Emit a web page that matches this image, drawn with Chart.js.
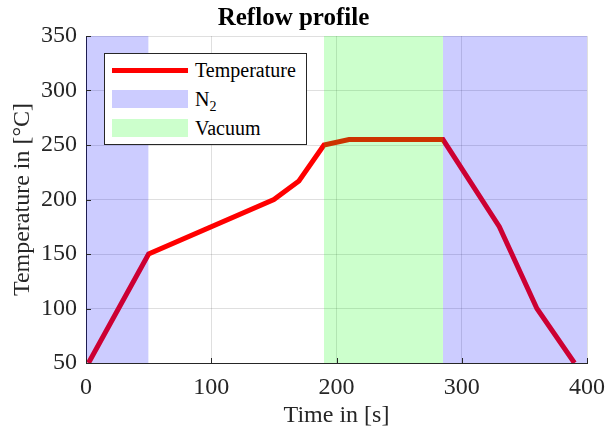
<!DOCTYPE html>
<html>
<head>
<meta charset="utf-8">
<script src="https://cdn.jsdelivr.net/npm/chart.js@4"></script>
<style>
  html, body { margin: 0; padding: 0; background: #fff; }
  #wrap { position: relative; width: 607px; height: 435px; }
  #legend { position: absolute; left: 104px; top: 53px; width: 203px; height: 92px; box-sizing: border-box;
    border: 1px solid #262626; background: #fff; font: 20px "Liberation Serif", serif; color: #000; }
  #legend .sw { position: absolute; left: 7px; width: 76px; }
  #legend .tx { position: absolute; left: 90px; line-height: 24px; white-space: nowrap; }
  #legend sub { font-size: 14px; vertical-align: -5px; line-height: 0; }
</style>
</head>
<body>
<div id="wrap">
  <canvas id="c" width="607" height="435"></canvas>
  <div id="legend"></div>
</div>
<script>
// reflow profile -- temperature vs time with N2 / vacuum phases
const timeS = [2, 50, 150, 170, 190, 210, 285, 330, 360, 390];
const tempC = [50, 150, 200, 217, 250, 255, 255, 175, 100, 50];
const n2Ranges = [[0, 50], [285, 400]];
const vacuumRange = [190, 285];
const xTicks = [0, 100, 200, 300, 400];
const yTicks = [50, 100, 150, 200, 250, 300, 350];

const RED = '#ff0000';
const BLUE = 'rgba(0,0,255,0.2)';
const GREEN = 'rgba(0,255,0,0.2)';
const AXIS = '#262626';
const FONT = '"Liberation Serif", "Times New Roman", serif';

function patch(range, color, label) {
  const top = yTicks[yTicks.length - 1];
  return {
    label, type: 'line', order: 0,
    data: [{ x: range[0], y: top }, { x: range[1], y: top }],
    borderWidth: 0, pointRadius: 0, fill: 'start', backgroundColor: color, borderColor: 'transparent'
  };
}

// MATLAB-like inward tick marks
const inwardTicks = {
  id: 'inwardTicks',
  afterDatasetsDraw(chart) {
    const { ctx, chartArea, scales: { x, y } } = chart;
    ctx.save();
    ctx.strokeStyle = AXIS;
    ctx.lineWidth = 1;
    ctx.beginPath();
    yTicks.forEach(v => {
      const py = Math.round(y.getPixelForValue(v)) + 0.5;
      ctx.moveTo(chartArea.left, py); ctx.lineTo(chartArea.left + 5, py);
    });
    xTicks.forEach(v => {
      const px = Math.round(x.getPixelForValue(v)) + 0.5;
      ctx.moveTo(px, chartArea.bottom); ctx.lineTo(px, chartArea.bottom - 5);
    });
    ctx.stroke();
    ctx.restore();
  }
};

const datasets = [
  {
    label: 'Temperature', type: 'line', order: 1,
    data: timeS.map((t, i) => ({ x: t, y: tempC[i] })),
    borderColor: RED, borderWidth: 5, pointRadius: 0, tension: 0, fill: false,
    borderJoinStyle: 'miter'
  },
  ...n2Ranges.map(r => patch(r, BLUE, 'N2')),
  patch(vacuumRange, GREEN, 'Vacuum')
];

new Chart(document.getElementById('c').getContext('2d'), {
  type: 'line',
  data: { datasets },
  options: {
    responsive: false, animation: false,
    layout: { padding: { left: 0, right: 20, top: 0, bottom: 0 } },
    plugins: {
      legend: { display: false },
      tooltip: { enabled: false },
      title: { display: true, text: 'Reflow profile', color: '#000',
        font: { family: FONT, size: 25, weight: 'bold' }, padding: { top: 4, bottom: 2 } }
    },
    scales: {
      x: {
        type: 'linear', min: 0, max: 400,
        afterBuildTicks: s => { s.ticks = xTicks.map(v => ({ value: v })); },
        afterFit: s => { s.height = 72; s.paddingLeft = 0; s.paddingRight = 0; },
        ticks: { color: '#262626', font: { family: FONT, size: 24 }, padding: 10, maxRotation: 0 },
        grid: { color: 'rgba(38,38,38,0.15)', drawTicks: false },
        border: { display: true, color: AXIS, width: 1 },
        title: { display: true, text: 'Time in [s]', color: '#262626',
          font: { family: FONT, size: 24 }, padding: { top: 0, bottom: 5 } }
      },
      y: {
        type: 'linear', min: 50, max: 350,
        afterBuildTicks: s => { s.ticks = yTicks.map(v => ({ value: v })); },
        afterFit: s => { s.width = 86; s.paddingTop = 0; s.paddingBottom = 0; },
        ticks: { color: '#262626', font: { family: FONT, size: 24 }, padding: 9 },
        grid: { color: 'rgba(38,38,38,0.15)', drawTicks: false },
        border: { display: true, color: AXIS, width: 1 },
        title: { display: true, text: 'Temperature in [°C]', color: '#262626',
          font: { family: FONT, size: 24 }, padding: { top: 8, bottom: 0 } }
      }
    }
  },
  plugins: [inwardTicks]
});

// legend box with subscript for N2
const legend = document.getElementById('legend');
legend.innerHTML = `
  <div class="sw" style="top:14px;height:5px;background:${RED}"></div>
  <div class="tx" style="top:4px">Temperature</div>
  <div class="sw" style="top:36px;height:18px;background:${BLUE}"></div>
  <div class="tx" style="top:33px">N<sub>2</sub></div>
  <div class="sw" style="top:65px;height:18px;background:${GREEN}"></div>
  <div class="tx" style="top:62px">Vacuum</div>
`;
</script>
</body>
</html>
